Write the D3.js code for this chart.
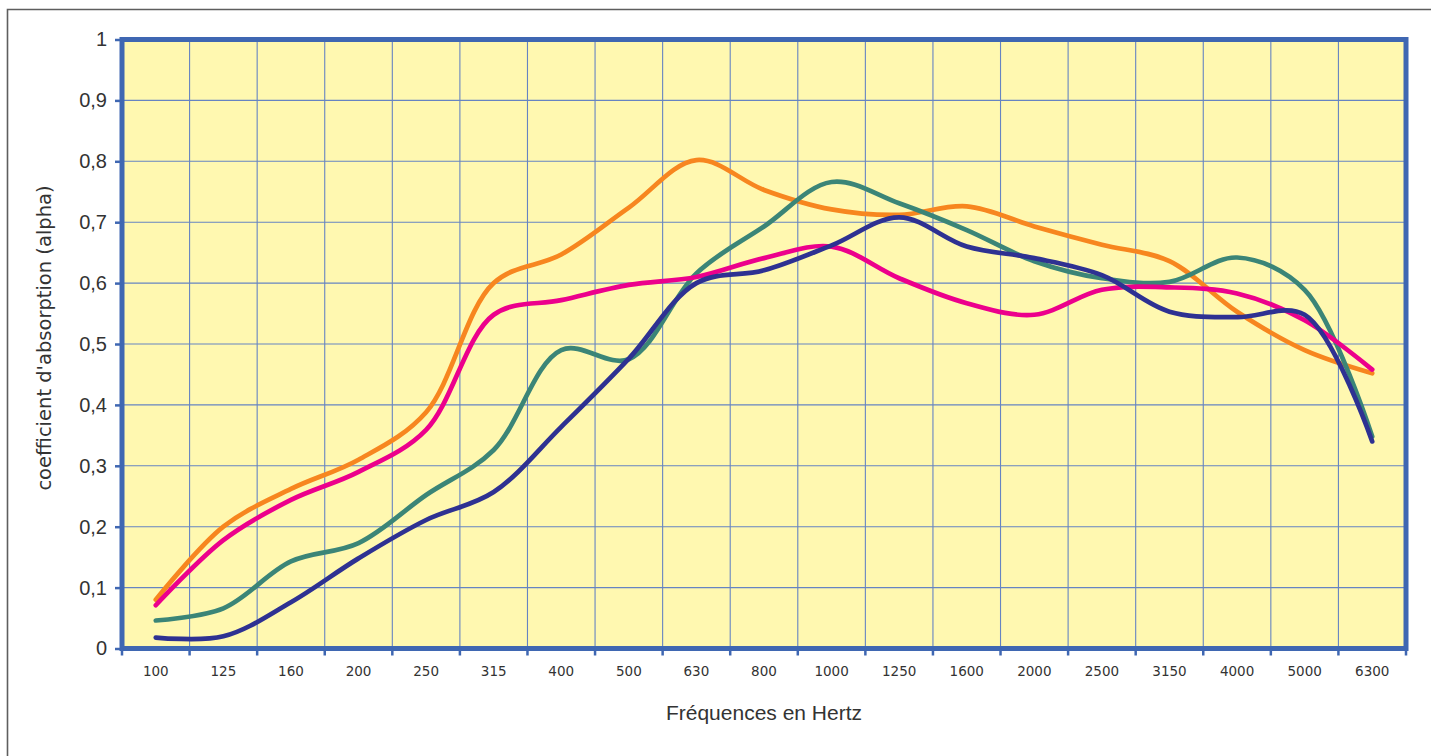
<!DOCTYPE html>
<html>
<head>
<meta charset="utf-8">
<script src="https://cdn.jsdelivr.net/npm/d3@7"></script>
<style>
  html, body { margin: 0; padding: 0; background: #ffffff; }
  svg { display: block; }
</style>
</head>
<body>
<svg id="chart" width="1431" height="756"></svg>
<script>
// ---- Data ----
const categories = ["100","125","160","200","250","315","400","500","630","800","1000","1250","1600","2000","2500","3150","4000","5000","6300"];
const yTicks = [0, 0.1, 0.2, 0.3, 0.4, 0.5, 0.6, 0.7, 0.8, 0.9, 1];
const seriesOrange  = [0.080,0.200,0.262,0.310,0.388,0.600,0.647,0.724,0.802,0.753,0.721,0.712,0.726,0.693,0.663,0.636,0.553,0.490,0.452];
const seriesTeal    = [0.046,0.066,0.143,0.173,0.252,0.326,0.490,0.475,0.616,0.693,0.766,0.731,0.687,0.636,0.608,0.602,0.642,0.589,0.348];
const seriesMagenta = [0.071,0.178,0.244,0.290,0.359,0.548,0.572,0.597,0.610,0.641,0.660,0.608,0.567,0.548,0.589,0.593,0.583,0.539,0.458];
const seriesNavy    = [0.018,0.020,0.076,0.148,0.211,0.257,0.364,0.476,0.600,0.621,0.662,0.708,0.660,0.641,0.613,0.553,0.544,0.548,0.340];
const seriesColors  = ["#f7861f", "#3b8577", "#ec008c", "#2e3192"];
const seriesList    = [seriesOrange, seriesTeal, seriesMagenta, seriesNavy];
const xTitle = "Fréquences en Hertz";
const yTitle = "coefficient d'absorption (alpha)";

// ---- Layout ----
const svg = d3.select("#chart");
const plot = { left: 122, right: 1406, top: 39.5, bottom: 648.5 };

const x = d3.scaleBand().domain(categories).range([plot.left, plot.right]).paddingInner(0).paddingOuter(0);
const y = d3.scaleLinear().domain([0, 1]).range([plot.bottom, plot.top]);
const bw = x.bandwidth();
const cx = c => x(c) + bw / 2;

// outer frame
svg.append("path")
  .attr("d", `M7.5,756 L7.5,9.5 L1431,9.5`)
  .attr("fill", "none").attr("stroke", "#5e5e5e").attr("stroke-width", 1.6);

// plot background
svg.append("rect")
  .attr("x", plot.left).attr("y", plot.top)
  .attr("width", plot.right - plot.left).attr("height", plot.bottom - plot.top)
  .attr("fill", "#fff8b0");

// grid lines
const grid = svg.append("g").attr("stroke", "#6684c2").attr("stroke-width", 1.1);
yTicks.filter(t => t > 0 && t < 1).forEach(t => {
  grid.append("line").attr("x1", plot.left).attr("x2", plot.right)
    .attr("y1", y(t)).attr("y2", y(t));
});
categories.slice(1).forEach(c => {
  grid.append("line").attr("x1", x(c)).attr("x2", x(c))
    .attr("y1", plot.top).attr("y2", plot.bottom);
});

// series lines
const line = d3.line()
  .x((d, i) => cx(categories[i]))
  .y(d => y(d))
  .curve(d3.curveCatmullRom.alpha(0.5));

seriesList.forEach((s, k) => {
  svg.append("path")
    .attr("d", line(s))
    .attr("fill", "none")
    .attr("stroke", seriesColors[k])
    .attr("stroke-width", 4.7)
    .attr("stroke-linecap", "round")
    .attr("stroke-linejoin", "round");
});

// plot border
svg.append("rect")
  .attr("x", plot.left).attr("y", plot.top)
  .attr("width", plot.right - plot.left).attr("height", plot.bottom - plot.top)
  .attr("fill", "none").attr("stroke", "#3f67b2").attr("stroke-width", 5);

// y axis
const fmt = d => (d === 0 || d === 1) ? String(d) : d.toFixed(1).replace(".", ",");
const yAxis = svg.append("g")
  .attr("transform", `translate(${plot.left},0)`)
  .call(d3.axisLeft(y).tickValues(yTicks).tickSize(7).tickPadding(8).tickFormat(fmt));
yAxis.select(".domain").remove();
yAxis.selectAll(".tick line").attr("stroke", "#3f67b2").attr("stroke-width", 2.5);
yAxis.selectAll(".tick text")
  .attr("fill", "#333333")
  .style("font-family", "'Liberation Sans', Arial, sans-serif")
  .style("font-size", "20px");

// x axis ticks at band boundaries
const xt = svg.append("g").attr("stroke", "#3f67b2").attr("stroke-width", 2.5);
categories.map(c => x(c)).concat([plot.right]).forEach(px => {
  xt.append("line").attr("x1", px).attr("x2", px).attr("y1", plot.bottom).attr("y2", plot.bottom + 7);
});
// x labels
const xAxis = svg.append("g")
  .attr("transform", `translate(0,${plot.bottom})`)
  .call(d3.axisBottom(x).tickSize(0).tickPadding(18));
xAxis.select(".domain").remove();
xAxis.selectAll(".tick text")
  .attr("fill", "#333333")
  .style("font-family", "'DejaVu Sans', sans-serif")
  .style("font-size", "13.5px");

// titles
svg.append("text")
  .attr("x", 764).attr("y", 720)
  .attr("text-anchor", "middle")
  .attr("fill", "#333333")
  .style("font-family", "'Liberation Sans', Arial, sans-serif")
  .style("font-size", "21px")
  .text(xTitle);

svg.append("text")
  .attr("transform", `translate(51,338) rotate(-90)`)
  .attr("text-anchor", "middle")
  .attr("fill", "#333333")
  .style("font-family", "'DejaVu Sans', sans-serif")
  .style("font-size", "19.5px")
  .text(yTitle);
</script>
</body>
</html>
